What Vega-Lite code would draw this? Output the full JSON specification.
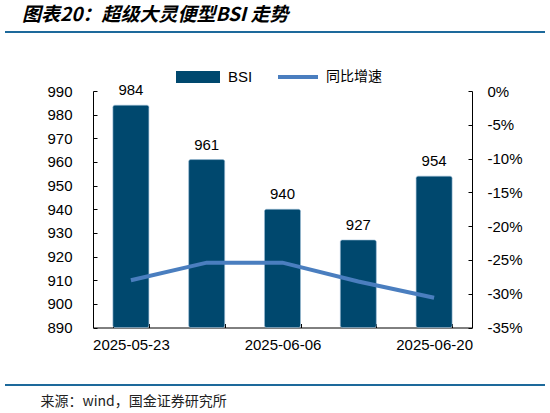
{
  "$schema": "https://vega.github.io/schema/vega-lite/v6.json",
  "width": 379,
  "height": 236.5,
  "autosize": {"type": "none"},
  "padding": {"left": 93, "top": 91, "right": 78, "bottom": 85.5},
  "background": "white",
  "config": {
    "view": {"stroke": null},
    "font": "Liberation Sans",
    "axis": {"labelFont": "Liberation Sans", "labelFontSize": 15, "labelColor": "black", "domainColor": "black", "tickColor": "black", "grid": false, "labelOverlap": false}
  },
  "title": {
    "text": "图表20：超级大灵便型BSI 走势",
    "anchor": "start",
    "frame": "group",
    "font": "Noto Sans CJK SC",
    "fontSize": 19,
    "fontWeight": "bold",
    "fontStyle": "italic",
    "color": "black",
    "dx": -71,
    "offset": 6
  },
  "data": {
    "values": [
      {"date": "2025-05-23", "bsi": 984, "yoy": -0.280},
      {"date": "2025-05-30", "bsi": 961, "yoy": -0.254},
      {"date": "2025-06-06", "bsi": 940, "yoy": -0.254},
      {"date": "2025-06-13", "bsi": 927, "yoy": -0.282},
      {"date": "2025-06-20", "bsi": 954, "yoy": -0.306}
    ]
  },
  "layer": [
    {
      "encoding": {
        "x": {
          "field": "date",
          "type": "ordinal",
          "sort": null,
          "scale": {"paddingInner": 0.525, "paddingOuter": 0.2625},
          "axis": {
            "title": "来源：wind，国金证券研究所",
            "titleFont": "Noto Sans CJK SC",
            "titleFontSize": 14,
            "titleFontWeight": "normal",
            "titleColor": "#222222",
            "titleX": -53,
            "titleY": 73.5,
            "titleAlign": "left",
            "titleBaseline": "middle",
            "titleAnchor": "start",
            "labelAngle": 0,
            "labelPadding": 14,
            "tickBand": "extent",
            "tickSize": -4,
            "labelExpr": "datum.value == '2025-05-30' || datum.value == '2025-06-13' ? '' : datum.value"
          }
        },
        "y": {
          "field": "bsi",
          "type": "quantitative",
          "scale": {"domain": [890, 990], "zero": false, "nice": false},
          "axis": {"title": null, "values": [890, 900, 910, 920, 930, 940, 950, 960, 970, 980, 990], "labelOverlap": false, "tickSize": -4, "labelPadding": 25}
        }
      },
      "layer": [
        {
          "mark": {"type": "bar", "color": "#00486e", "cornerRadius": 2, "stroke": "#9dbdd6", "strokeWidth": 0.6},
          "encoding": {
            "y2": {"datum": 890},
            "fill": {
              "datum": "BSI",
              "scale": {"range": ["#00486e"]},
              "legend": {
                "orient": "none",
                "legendX": 83,
                "legendY": -36,
                "direction": "horizontal",
                "title": null,
                "padding": 0,
                "symbolType": "M-1,-0.27L1,-0.27L1,0.27L-1,0.27Z",
                "symbolSize": 1936,
                "symbolStrokeWidth": 0,
                "labelFont": "Liberation Sans",
                "labelFontSize": 15,
                "labelColor": "black",
                "labelOffset": 8
              }
            }
          }
        },
        {
          "mark": {"type": "text", "baseline": "bottom", "dy": -7, "fontSize": 15, "font": "Liberation Sans", "color": "black"},
          "encoding": {
            "text": {"field": "bsi", "type": "quantitative"}
          }
        }
      ]
    },
    {
      "mark": {"type": "line", "strokeWidth": 4, "color": "#4a7ebf"},
      "encoding": {
        "x": {"field": "date", "type": "ordinal", "sort": null},
        "y": {
          "field": "yoy",
          "type": "quantitative",
          "scale": {"domain": [-0.35, 0], "nice": false},
          "axis": {
            "orient": "right",
            "title": null,
            "values": [-0.35, -0.3, -0.25, -0.2, -0.15, -0.1, -0.05, 0],
            "labelOverlap": false,
            "labelExpr": "round(datum.value * 100) + '%'",
            "tickSize": -4,
            "labelPadding": 19
          }
        },
        "stroke": {
          "datum": "同比增速",
          "scale": {"range": ["#4a7ebf"]},
          "legend": {
            "orient": "none",
            "legendX": 183,
            "legendY": -36,
            "direction": "horizontal",
            "title": null,
            "padding": 0,
            "symbolType": "stroke",
            "symbolSize": 1600,
            "symbolStrokeWidth": 4,
            "labelFont": "Noto Sans CJK SC",
            "labelFontSize": 14,
            "labelColor": "black",
            "labelOffset": 6
          }
        }
      }
    },
    {
      "mark": {"type": "rule", "color": "#1e6a9b", "strokeWidth": 1.5},
      "encoding": {
        "x": {"value": -88},
        "x2": {"value": 452},
        "y": {"value": -59}
      }
    },
    {
      "mark": {"type": "rule", "color": "#1e6a9b", "strokeWidth": 1.5},
      "encoding": {
        "x": {"value": -88},
        "x2": {"value": 452},
        "y": {"value": 294}
      }
    }
  ],
  "resolve": {"scale": {"y": "independent", "fill": "independent", "stroke": "independent"}}
}
